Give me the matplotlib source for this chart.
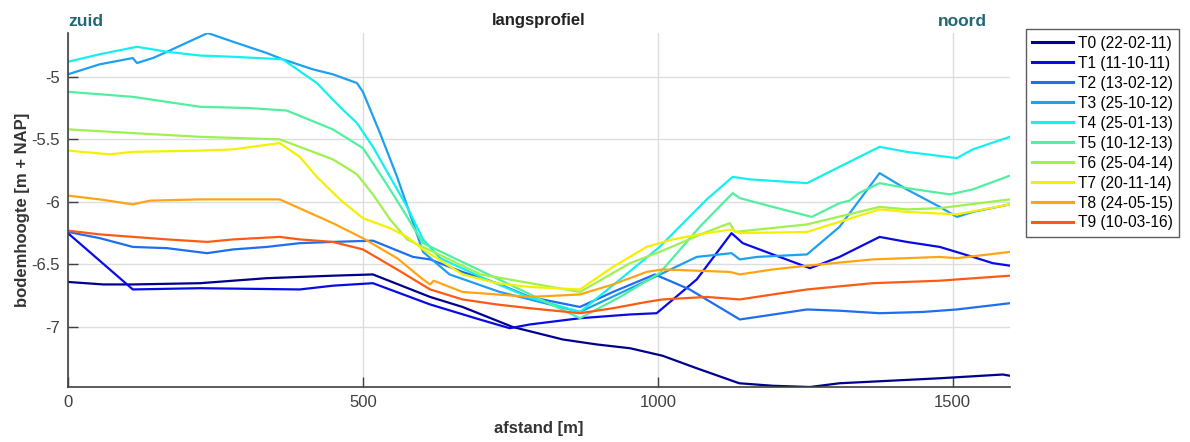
"""
Langsprofiel bodemhoogte, survey series T0..T9.
"""
import matplotlib
matplotlib.use("Agg")
import matplotlib.pyplot as plt
import numpy as np

plt.rcParams["font.family"] = ["Liberation Sans", "DejaVu Sans"]

# ---------------------------------------------------------------------------
# Survey profiles: distance along track [m] and bed level [m + NAP]
# ---------------------------------------------------------------------------
labels = ["T0 (22-02-11)", "T1 (11-10-11)", "T2 (13-02-12)", "T3 (25-10-12)",
          "T4 (25-01-13)", "T5 (10-12-13)", "T6 (25-04-14)", "T7 (20-11-14)",
          "T8 (24-05-15)", "T9 (10-03-16)"]

t0_x = [0, 60, 110, 224, 337, 449, 517, 614, 669, 754, 839, 897, 953, 1008,
        1066, 1138, 1195, 1258, 1308, 1393, 1478, 1585, 1597]
t0_y = [-6.64, -6.66, -6.66, -6.65, -6.61, -6.59, -6.58, -6.76, -6.84, -7.00,
        -7.10, -7.14, -7.17, -7.23, -7.33, -7.45, -7.47, -7.48, -7.45, -7.43,
        -7.41, -7.38, -7.39]

t1_x = [0, 110, 224, 393, 449, 517, 614, 698, 749, 783, 868, 953, 998, 1066,
        1125, 1144, 1195, 1258, 1286, 1308, 1376, 1422, 1478, 1534, 1568, 1597]
t1_y = [-6.25, -6.70, -6.69, -6.70, -6.67, -6.65, -6.82, -6.94, -7.01, -6.98,
        -6.93, -6.90, -6.89, -6.62, -6.25, -6.33, -6.42, -6.53, -6.48, -6.44,
        -6.28, -6.32, -6.36, -6.44, -6.49, -6.51]

t2_x = [0, 54, 110, 168, 236, 280, 337, 393, 449, 517, 585, 614, 669, 727,
        783, 868, 924, 995, 1054, 1139, 1168, 1253, 1308, 1376, 1449, 1507, 1597]
t2_y = [-6.24, -6.29, -6.36, -6.37, -6.41, -6.38, -6.36, -6.33, -6.32, -6.31,
        -6.44, -6.46, -6.56, -6.65, -6.76, -6.84, -6.72, -6.58, -6.70, -6.94,
        -6.92, -6.86, -6.87, -6.89, -6.88, -6.86, -6.81]

t3_x = [0, 54, 110, 117, 144, 168, 237, 280, 337, 364, 415, 449, 490, 500,
        529, 558, 583, 602, 647, 732, 868, 995, 1066, 1125, 1139, 1168, 1253,
        1308, 1376, 1422, 1478, 1507, 1534, 1597]
t3_y = [-4.98, -4.90, -4.85, -4.89, -4.85, -4.80, -4.65, -4.72, -4.81, -4.86,
        -4.94, -4.98, -5.05, -5.12, -5.45, -5.80, -6.14, -6.40, -6.58, -6.72,
        -6.88, -6.60, -6.44, -6.41, -6.46, -6.44, -6.42, -6.20, -5.77, -5.90,
        -6.04, -6.12, -6.08, -6.02]

t4_x = [0, 54, 117, 168, 224, 280, 364, 422, 461, 490, 517, 546, 575, 602,
        631, 700, 780, 868, 936, 1003, 1083, 1127, 1156, 1253, 1308, 1376,
        1422, 1507, 1534, 1597]
t4_y = [-4.88, -4.82, -4.76, -4.80, -4.83, -4.84, -4.86, -5.05, -5.24, -5.37,
        -5.56, -5.80, -6.04, -6.30, -6.45, -6.60, -6.76, -6.88, -6.62, -6.36,
        -5.98, -5.80, -5.82, -5.85, -5.72, -5.56, -5.60, -5.65, -5.58, -5.48]

t5_x = [0, 110, 224, 308, 371, 449, 500, 517, 546, 575, 602, 868, 936, 1003,
        1071, 1127, 1139, 1195, 1261, 1308, 1325, 1341, 1376, 1422, 1495, 1534,
        1597]
t5_y = [-5.12, -5.16, -5.24, -5.25, -5.27, -5.42, -5.57, -5.69, -5.90, -6.12,
        -6.33, -6.93, -6.76, -6.57, -6.20, -5.93, -5.97, -6.04, -6.12, -6.01,
        -5.99, -5.93, -5.85, -5.89, -5.94, -5.90, -5.79]

t6_x = [0, 110, 224, 359, 393, 449, 470, 490, 517, 546, 575, 700, 868, 953,
        1003, 1083, 1122, 1131, 1253, 1376, 1422, 1478, 1597]
t6_y = [-5.42, -5.45, -5.48, -5.50, -5.56, -5.66, -5.72, -5.78, -5.94, -6.14,
        -6.30, -6.58, -6.72, -6.49, -6.40, -6.24, -6.17, -6.24, -6.18, -6.04,
        -6.06, -6.05, -5.98]

t7_x = [0, 71, 110, 224, 280, 359, 393, 422, 461, 500, 546, 575, 602, 669,
        727, 783, 868, 924, 981, 1025, 1083, 1125, 1139, 1253, 1376, 1422,
        1507, 1597]
t7_y = [-5.59, -5.62, -5.60, -5.59, -5.58, -5.53, -5.64, -5.80, -5.98, -6.13,
        -6.21, -6.28, -6.38, -6.58, -6.65, -6.68, -6.70, -6.52, -6.36, -6.30,
        -6.25, -6.22, -6.25, -6.24, -6.06, -6.08, -6.10, -6.02]

t8_x = [0, 54, 110, 139, 224, 359, 449, 500, 558, 602, 614, 620, 669, 727,
        783, 868, 924, 981, 1008, 1066, 1122, 1139, 1195, 1253, 1364, 1478,
        1507, 1597]
t8_y = [-5.95, -5.98, -6.02, -5.99, -5.98, -5.98, -6.17, -6.29, -6.45, -6.62,
        -6.66, -6.63, -6.72, -6.74, -6.76, -6.74, -6.66, -6.56, -6.54, -6.55,
        -6.56, -6.58, -6.54, -6.51, -6.46, -6.44, -6.45, -6.40]

t9_x = [0, 54, 168, 236, 280, 359, 393, 449, 500, 558, 614, 669, 727, 783,
        868, 924, 981, 1008, 1083, 1139, 1195, 1253, 1364, 1478, 1507, 1597]
t9_y = [-6.23, -6.26, -6.30, -6.32, -6.30, -6.28, -6.30, -6.32, -6.38, -6.54,
        -6.70, -6.78, -6.82, -6.85, -6.89, -6.85, -6.80, -6.78, -6.76, -6.78,
        -6.74, -6.70, -6.65, -6.63, -6.62, -6.59]

series_x = [t0_x, t1_x, t2_x, t3_x, t4_x, t5_x, t6_x, t7_x, t8_x, t9_x]
series_y = [t0_y, t1_y, t2_y, t3_y, t4_y, t5_y, t6_y, t7_y, t8_y, t9_y]

colors = ["#00008c", "#0a0ae6", "#1e6ef0", "#1ea0f0", "#14f0f0",
          "#50f0a0", "#a0f050", "#f5f000", "#ffa514", "#ff5a14"]

x_ticks = [0, 500, 1000, 1500]
y_ticks = [-7, -6.5, -6, -5.5, -5]

# ---------------------------------------------------------------------------
# Figure
# ---------------------------------------------------------------------------
fig = plt.figure(figsize=(11.9, 4.42), dpi=100)
ax = fig.add_axes([0.0571, 0.1244, 0.7916, 0.8009])

for xs, ys, c, lab in zip(series_x, series_y, colors, labels):
    ax.plot(xs, ys, color=c, lw=1.6, label=lab, solid_joinstyle="round")

all_y = np.concatenate([np.asarray(y) for y in series_y])
ax.set_xlim(0, max(max(x) for x in series_x))
ax.set_ylim(all_y.min(), all_y.max())

ax.set_xticks(x_ticks)
ax.set_yticks(y_ticks)
ax.set_yticklabels([f"{v:g}" for v in y_ticks])
ax.tick_params(direction="in", length=7, width=1.0, colors="#404040",
               labelsize=12, pad=6)
ax.grid(True, color="#dddddd", lw=1.0)
ax.set_axisbelow(True)

for side in ("top", "right"):
    ax.spines[side].set_visible(False)
for side in ("left", "bottom"):
    ax.spines[side].set_color("#404040")
    ax.spines[side].set_linewidth(1.2)

ax.set_title("langsprofiel", fontsize=12, fontweight="bold",
             color="#222222", pad=6)
ax.set_xlabel("afstand [m]", fontsize=12, fontweight="bold",
              color="#333333", labelpad=8)
ax.set_ylabel("bodemhoogte [m + NAP]", fontsize=12, fontweight="bold",
              color="#333333", labelpad=1)

ax.text(0.0, 1.012, "zuid", transform=ax.transAxes, ha="left", va="bottom",
        fontsize=12.5, fontweight="bold", color="#236674")
ax.text(0.976, 1.012, "noord", transform=ax.transAxes, ha="right",
        va="bottom", fontsize=12.5, fontweight="bold", color="#236674")

leg = ax.legend(loc="upper left", bbox_to_anchor=(1.017, 1.01),
                fontsize=11.2, frameon=True, fancybox=False,
                edgecolor="#333333", borderpad=0.4, labelspacing=0.32,
                handlelength=2.6, handletextpad=0.35, borderaxespad=0.0)
leg.get_frame().set_linewidth(1.0)
for h in leg.get_lines():
    h.set_linewidth(2.2)

plt.savefig("out.png", dpi=100)
plt.close()
